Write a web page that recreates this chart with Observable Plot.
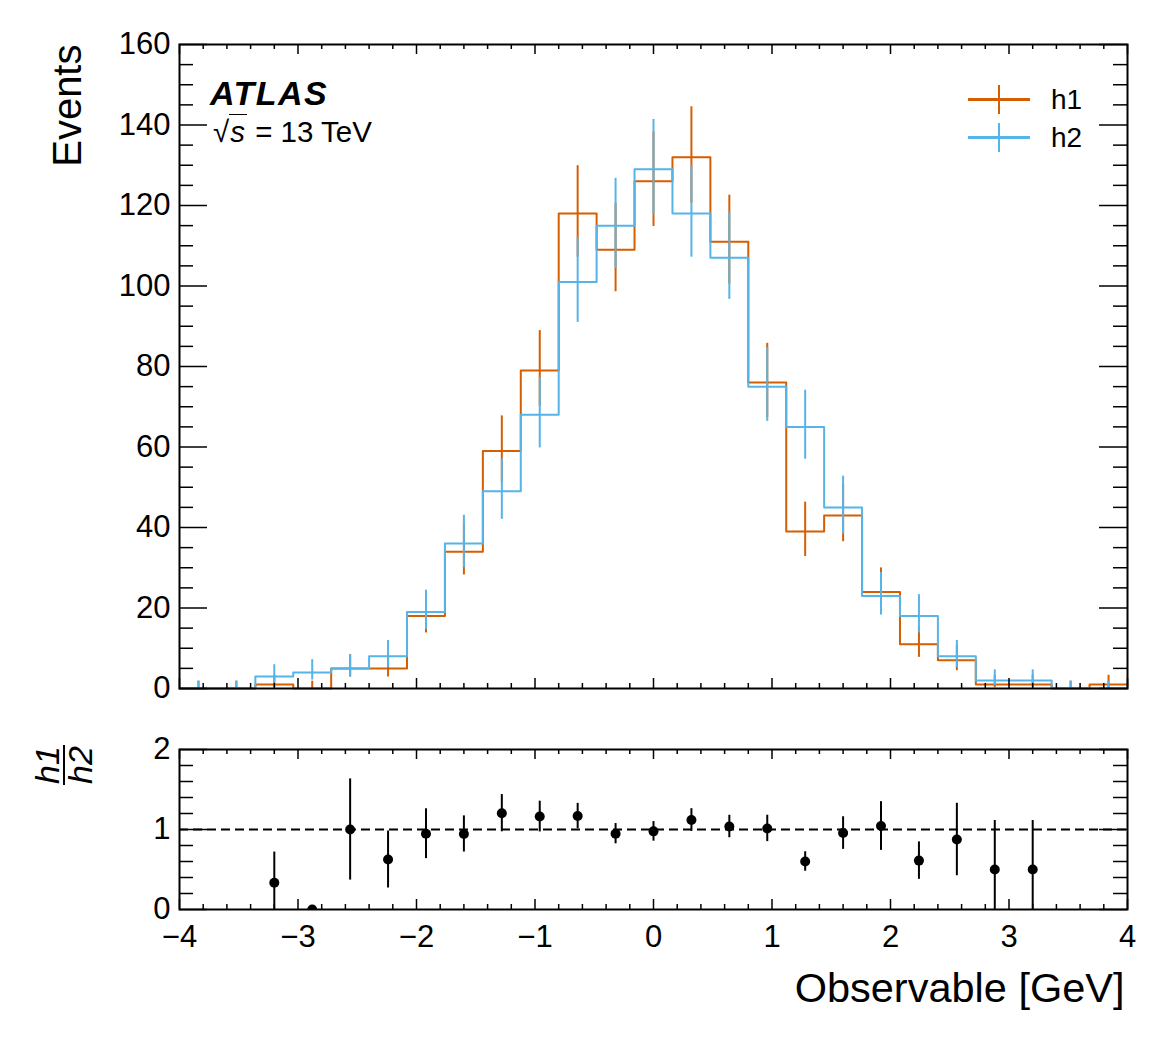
<!DOCTYPE html>
<html><head><meta charset="utf-8">
<script src="https://cdn.jsdelivr.net/npm/d3@7"></script>
<script src="https://cdn.jsdelivr.net/npm/@observablehq/plot@0.6"></script>
<style>
html,body{margin:0;padding:0;background:#fff;}
#root{position:relative;width:1167px;height:1045px;font-family:"Liberation Sans",Arial,Helvetica,sans-serif;overflow:hidden;color:#000}
#root svg{position:absolute;left:0;}
.ann{position:absolute;white-space:nowrap;line-height:1;color:#000;font-family:"Liberation Sans",Arial,Helvetica,sans-serif}
.sw{position:absolute}
</style></head><body><div id="root"></div>
<script>
// ---- data ----
const binEdges = [-4, -3.68, -3.36, -3.04, -2.72, -2.4, -2.08, -1.76, -1.44, -1.12, -0.8, -0.48, -0.16,
                  0.16, 0.48, 0.8, 1.12, 1.44, 1.76, 2.08, 2.4, 2.72, 3.04, 3.36, 3.68, 4];
const h1 = [0, 0, 1, 0, 5, 5, 18, 34, 59, 79, 118, 109, 126, 132, 111, 76, 39, 43, 24, 11, 7, 1, 1, 0, 1];
const h2 = [0, 0, 3, 4, 5, 8, 19, 36, 49, 68, 101, 115, 129, 118, 107, 75, 65, 45, 23, 18, 8, 2, 2, 0, 0];
const seriesNames = ["h1", "h2"];
const seriesColors = ["#D55E00", "#56B4E9"];
const xMajorTicks = [-4, -3, -2, -1, 0, 1, 2, 3, 4];
const yMajorTicks = [0, 20, 40, 60, 80, 100, 120, 140, 160];
const rMajorTicks = [0, 1, 2];

// ---- derived ----
const bins = h1.map((_, i) => ({
  x0: binEdges[i], x1: binEdges[i + 1], c: (binEdges[i] + binEdges[i + 1]) / 2, h1: h1[i], h2: h2[i]
}));
// Garwood (Poisson) interval bounds, Wilson-Hilferty approximation
function poisLo(n) { if (n <= 0) return 0; const t = 1 - 1 / (9 * n) - 1 / (3 * Math.sqrt(n)); return n * t * t * t; }
function poisHi(n) { const m = n + 1; const t = 1 - 1 / (9 * m) + 1 / (3 * Math.sqrt(m)); return m * t * t * t; }
const stepData = key => [...bins.map(b => ({x: b.x0, y: b[key]})), {x: binEdges[binEdges.length - 1], y: bins[bins.length - 1][key]}];
const ratioPts = bins.filter(b => b.h2 > 0).map(b => {
  const r = b.h1 / b.h2;
  const e = b.h1 > 0 ? r * Math.sqrt(1 / b.h1 + 1 / b.h2) : 0;
  return {c: b.c, r, lo: r - e, hi: r + e};
});
const xMinor = d3.range(0, 41).filter(i => i % 5 !== 0).map(i => -4 + i * 0.2);
const yMinor = d3.range(0, 33).filter(i => i % 4 !== 0).map(i => i * 5);
const rMinor = d3.range(0, 11).filter(i => i % 5 !== 0).map(i => i * 0.2);

const FONT = '"Liberation Sans", Arial, Helvetica, sans-serif';
const FW = 948, FH1 = 644, FH2 = 160;
const fmt = d => (d < 0 ? "\u2212" : "") + Math.abs(d);

function frameTicks(yMaj, yMin, FH) {
  const k = {stroke: "black", strokeWidth: 1.5};
  return [
    Plot.tickX(xMajorTicks, {x: d => d, insetTop: FH - 10, ...k}),
    Plot.tickX(xMajorTicks, {x: d => d, insetBottom: FH - 10, ...k}),
    Plot.tickX(xMinor, {x: d => d, insetTop: FH - 5, ...k}),
    Plot.tickX(xMinor, {x: d => d, insetBottom: FH - 5, ...k}),
    Plot.tickY(yMaj, {y: d => d, insetRight: FW - 28, ...k}),
    Plot.tickY(yMaj, {y: d => d, insetLeft: FW - 28, ...k}),
    Plot.tickY(yMin, {y: d => d, insetRight: FW - 14, ...k}),
    Plot.tickY(yMin, {y: d => d, insetLeft: FW - 14, ...k})
  ];
}

const seriesMarks = seriesNames.flatMap((name, i) => [
  Plot.line(stepData(name), {x: "x", y: "y", curve: "step-after", stroke: seriesColors[i], strokeWidth: 2}),
  Plot.ruleX(bins, {x: "c", y1: b => poisLo(b[name]), y2: b => poisHi(b[name]), stroke: seriesColors[i], strokeWidth: 2})
]);

const topPlot = Plot.plot({
  width: 1167, height: 700,
  marginLeft: 179, marginRight: 40, marginTop: 44, marginBottom: 12,
  x: {domain: [-4, 4], axis: null},
  y: {domain: [0, 160], axis: null},
  style: {fontFamily: FONT, color: "black", background: "transparent", overflow: "visible"},
  marks: [
    ...seriesMarks,
    Plot.frame({stroke: "black", strokeWidth: 2}),
    ...frameTicks(yMajorTicks, yMinor, FH1),
    Plot.axisY(yMajorTicks, {anchor: "left", tickSize: 0, tickPadding: 9, fontSize: 31, tickFormat: fmt, label: null}),
    Plot.text(["Events"], {frameAnchor: "top-left", text: d => d, rotate: -90, textAnchor: "end", lineAnchor: "bottom", dx: -99, fontSize: 40})
  ]
});
topPlot.style.top = "0px";

const ratioPlot = Plot.plot({
  width: 1167, height: 345,
  marginLeft: 179, marginRight: 40, marginTop: 49, marginBottom: 136,
  x: {domain: [-4, 4], axis: null},
  y: {domain: [0, 2], axis: null},
  style: {fontFamily: FONT, color: "black", background: "transparent", overflow: "visible"},
  marks: [
    Plot.ruleY([1], {stroke: "black", strokeWidth: 2, strokeDasharray: "9,5"}),
    Plot.ruleX(ratioPts, {x: "c", y1: "lo", y2: "hi", stroke: "black", strokeWidth: 2, clip: true}),
    Plot.dot(ratioPts, {x: "c", y: "r", r: 5, fill: "black", stroke: null, clip: true}),
    Plot.frame({stroke: "black", strokeWidth: 2}),
    ...frameTicks(rMajorTicks, rMinor, FH2),
    Plot.axisY(rMajorTicks, {anchor: "left", tickSize: 0, tickPadding: 9, fontSize: 31, tickFormat: fmt, label: null}),
    Plot.axisX(xMajorTicks, {anchor: "bottom", tickSize: 0, tickPadding: 15, fontSize: 31, tickFormat: fmt, label: null}),
    Plot.text(["Observable [GeV]"], {frameAnchor: "bottom-right", text: d => d, textAnchor: "end", lineAnchor: "bottom", dx: -3, dy: 92, fontSize: 41.5})
  ]
});
ratioPlot.style.top = "700px";

const root = document.getElementById("root");
root.appendChild(topPlot);
root.appendChild(ratioPlot);

// ---- annotations (HTML overlay) ----
function addText(html, left, baseline, size, extra = "") {
  const d = document.createElement("div");
  d.className = "ann";
  d.style.cssText += `left:${left}px;top:${baseline - 0.8465 * size}px;font-size:${size}px;${extra}`;
  d.innerHTML = html;
  root.appendChild(d);
  return d;
}
function addBox(left, top, w, h, color) {
  const d = document.createElement("div");
  d.className = "sw";
  d.style.cssText += `left:${left}px;top:${top}px;width:${w}px;height:${h}px;background:${color}`;
  root.appendChild(d);
}
addText("ATLAS", 210, 104.5, 34, "font-weight:bold;font-style:italic;letter-spacing:1.5px;");
addText('\u221A<span style="font-style:italic;border-top:1.8px solid #000;padding:0 2px 0 1px">s</span> = 13 TeV', 213, 141.5, 29.5);

// legend
seriesNames.forEach((name, i) => {
  const cy = 99.5 + i * 38;
  addBox(968, cy - 1.75, 62, 3.5, seriesColors[i]);
  addBox(998, cy - 14.5, 2.2, 29, seriesColors[i]);
  addText(name, 1051, cy + 10.5, 28);
});

// ratio y label (fraction)
const frac = document.createElement("div");
frac.style.cssText = "position:absolute;left:43px;top:732px;width:42px;height:66px;transform:rotate(-90deg);transform-origin:50% 50%;display:flex;flex-direction:column;align-items:center;justify-content:center;font-family:" + FONT + ";font-style:italic;font-size:34px;";
frac.innerHTML = `<div style="line-height:31px;height:31px">${seriesNames[0]}</div><div style="width:40px;height:2px;background:#000"></div><div style="line-height:31px;height:31px">${seriesNames[1]}</div>`;
root.appendChild(frac);
</script>
</body></html>
